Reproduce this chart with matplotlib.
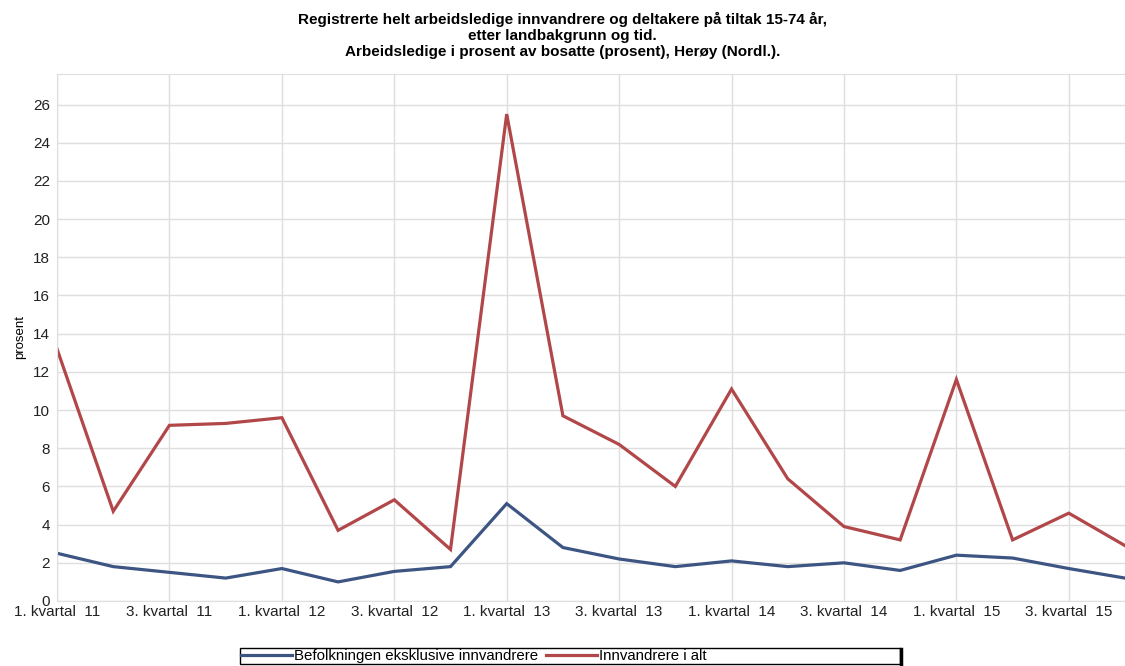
import matplotlib.pyplot as plt
from matplotlib.patches import Rectangle
from matplotlib.lines import Line2D

plt.rcParams['font.family'] = ['Liberation Sans', 'DejaVu Sans']

# Data
quarters = [f"{q}. kvartal  {y}" for y in range(11, 16) for q in range(1, 5)]
befolkning = [2.5, 1.8, 1.5, 1.2, 1.7, 1.0, 1.55, 1.8,
              5.1, 2.8, 2.2, 1.8, 2.1, 1.8, 2.0, 1.6,
              2.4, 2.25, 1.7, 1.2]
innvandrere = [13.2, 4.7, 9.2, 9.3, 9.6, 3.7, 5.3, 2.7,
               25.5, 9.7, 8.2, 6.0, 11.1, 6.4, 3.9, 3.2,
               11.6, 3.2, 4.6, 2.9]

blue = '#3d5583'
red = '#b2474a'
grid_c = '#dedede'
W, H = 1125, 666

fig = plt.figure(figsize=(11.25, 6.66), dpi=100)
ax = fig.add_axes([0.0507, 0.0976, 0.9493, 0.7913])

x = list(range(len(quarters)))
ax.plot(x, befolkning, color=blue, lw=2.3, label='Befolkningen eksklusive innvandrere',
        solid_joinstyle='miter')
ax.plot(x, innvandrere, color=red, lw=2.3, label='Innvandrere i alt',
        solid_joinstyle='miter')

ax.set_xlim(0, len(quarters) - 1)
ax.set_ylim(0, 27.6)
ax.set_xticks(x[::2])
ax.set_xticklabels(quarters[::2], fontsize=11)
ax.set_yticks(range(0, 27, 2))
ax.tick_params(axis='both', length=0, labelsize=11, colors='#222222')
ax.tick_params(axis='x', pad=3)
ax.tick_params(axis='y', pad=5)
ax.grid(True, color=grid_c, lw=1)
ax.set_axisbelow(True)
for s in ax.spines.values():
    s.set_color(grid_c)
ax.spines['right'].set_visible(False)

ax.set_ylabel('prosent', fontsize=9.5, labelpad=5)

fig.text(0.5, 0.982, 'Registrerte helt arbeidsledige innvandrere og deltakere på tiltak 15-74 år,\n'
         'etter landbakgrunn og tid.\n'
         'Arbeidsledige i prosent av bosatte (prosent), Herøy (Nordl.).',
         ha='center', va='top', fontsize=11, weight='bold', linespacing=1.2)

# Legend box (wide frame with dark right edge, as in the reference)
fig.patches.append(Rectangle((240 / W, 1 - 664 / H), 660 / W, 16 / H,
                             transform=fig.transFigure, facecolor='white',
                             edgecolor='black', lw=1, zorder=1))
fig.lines.append(Line2D([901 / W, 901 / W], [1 - 666 / H, 1 - 649 / H],
                        transform=fig.transFigure, color='black', lw=2.5))
fig.legend(loc='center left', bbox_to_anchor=(241 / W, 1 - 656 / H), ncol=2, fontsize=10.8,
           frameon=False, handlelength=3.4, handletextpad=0.15, columnspacing=0.5,
           borderpad=0, borderaxespad=0)

fig.savefig('out.png', dpi=100, facecolor='white')
